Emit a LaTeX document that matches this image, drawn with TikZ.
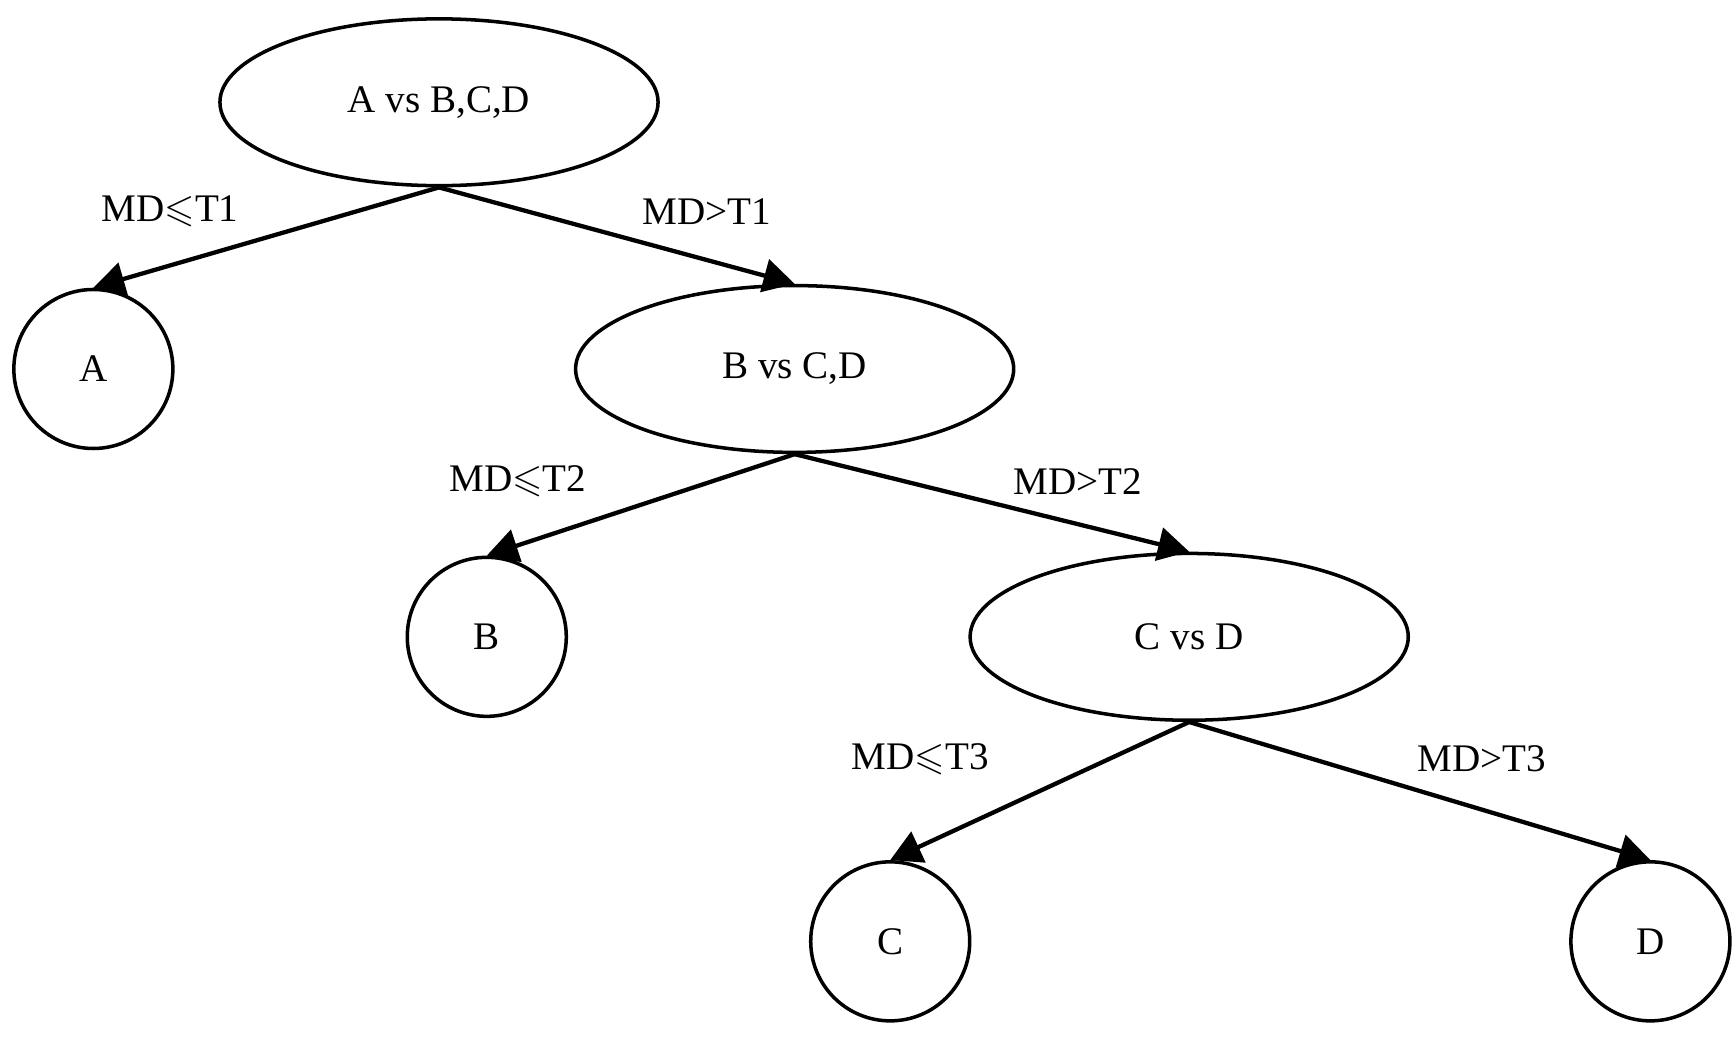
\documentclass[tikz,border=0pt]{standalone}
\usepackage{amssymb}
\usepackage{fontspec}
\setmainfont{Liberation Serif}
\usetikzlibrary{shapes.geometric,arrows.meta}
\begin{document}
\begin{tikzpicture}[x=0.01cm,y=-0.01cm,
  every node/.style={font=\fontsize{10}{12}\selectfont},
  ell/.style={draw,line width=0.9pt,ellipse,minimum width=3.94cm,minimum height=1.5cm,inner sep=0pt},
  leaf/.style={draw,line width=0.9pt,circle,minimum size=1.43cm,inner sep=0pt},
  edge/.style={line width=1.1pt,-{Triangle[length=0.28cm,width=0.3cm]}},
  lab/.style={inner sep=0pt}]
\useasboundingbox (0,0) rectangle (1562,933);
\node[ell] (r) at (395,92) {A vs B,C,D};
\node[leaf] (a) at (84,332) {A};
\node[ell] (bcd) at (715,332) {B vs C,D};
\node[leaf] (b) at (438,573) {B};
\node[ell] (cd) at (1070,573) {C vs D};
\node[leaf] (c) at (801,847) {C};
\node[leaf] (d) at (1485,847) {D};
\draw[edge] (r.south) -- (a.north);
\draw[edge] (r.south) -- (bcd.north);
\draw[edge] (bcd.south) -- (b.north);
\draw[edge] (bcd.south) -- (cd.north);
\draw[edge] (cd.south) -- (c.north);
\draw[edge] (cd.south) -- (d.north);
\node[lab] (l1) at (153,190) {MD$\leqslant$T1};
\node[lab] (l2) at (636,190) {MD>T1};
\node[lab] (l3) at (466,433) {MD$\leqslant$T2};
\node[lab] (l4) at (970,433) {MD>T2};
\node[lab] (l5) at (828,683) {MD$\leqslant$T3};
\node[lab] (l6) at (1333,683) {MD>T3};
\end{tikzpicture}
\end{document}
